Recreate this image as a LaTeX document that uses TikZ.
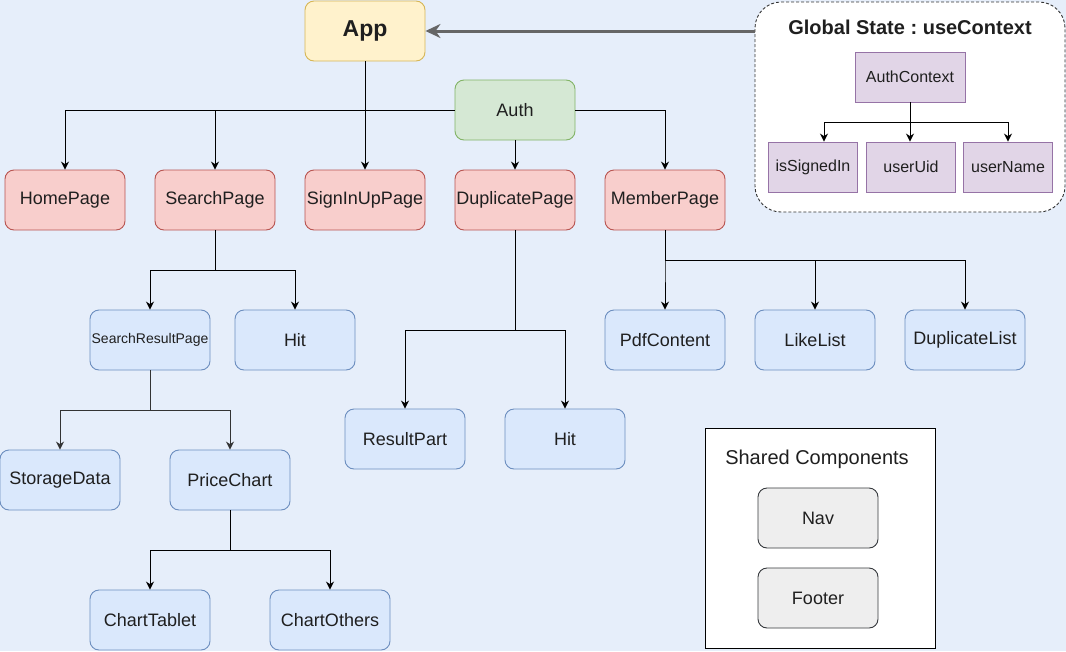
\documentclass[tikz,border=0pt]{standalone}
\usepackage{fontspec}
\setmainfont{Liberation Sans}
\usetikzlibrary{arrows.meta,positioning}
\definecolor{pagebg}{RGB}{230,238,250}
\definecolor{appfill}{RGB}{255,242,204}
\definecolor{appline}{RGB}{214,182,86}
\definecolor{authfill}{RGB}{213,232,212}
\definecolor{authline}{RGB}{130,179,102}
\definecolor{pagefill}{RGB}{248,206,204}
\definecolor{pageline}{RGB}{184,84,80}
\definecolor{partfill}{RGB}{218,232,252}
\definecolor{partline}{RGB}{108,142,191}
\definecolor{ctxfill}{RGB}{225,213,231}
\definecolor{ctxline}{RGB}{150,115,166}
\definecolor{sharedfill}{RGB}{238,238,238}
\definecolor{sharedline}{RGB}{54,57,61}
\definecolor{arrowgray}{RGB}{102,102,102}
\definecolor{edgegray}{RGB}{51,51,51}
\frenchspacing
\tikzset{
  box/.style={rounded corners=9pt,minimum width=120pt,minimum height=60pt,
    line width=0.9pt,align=center,inner sep=1pt,text=black!88,
    font=\fontsize{18}{21}\selectfont},
  rootbox/.style={box,fill=appfill,draw=appline,font=\bfseries\fontsize{23}{27}\selectfont},
  authbox/.style={box,fill=authfill,draw=authline},
  pagebox/.style={box,fill=pagefill,draw=pageline},
  partbox/.style={box,fill=partfill,draw=partline},
  sharedbox/.style={box,fill=sharedfill,draw=sharedline},
  ctxbox/.style={draw=ctxline,fill=ctxfill,line width=0.9pt,minimum width=110pt,
    minimum height=50pt,inner sep=1pt,text=black!88,font=\fontsize{16}{19}\selectfont},
  ctxleaf/.style={ctxbox,minimum width=89pt},
  globalbox/.style={draw=black!80,fill=white,dash pattern=on 3pt off 2pt,line width=0.9pt,
    rounded corners=26pt,minimum width=310pt,minimum height=210pt},
  sharedframe/.style={draw=black,fill=white,line width=1pt,minimum width=230pt,minimum height=220pt},
  frametitle/.style={text=black!88,font=\fontsize{20}{24}\selectfont},
  link/.style={draw=black,line width=1pt,-{Stealth[length=8pt,width=8pt]}},
  statearrow/.style={draw=arrowgray,line width=3pt,-{Stealth[length=15pt,width=14pt]}}
}

\begin{document}
\begin{tikzpicture}[x=1pt,y=-1pt]
  \fill[pagebg] (0,0) rectangle (1066,651);
  \useasboundingbox (0,0) rectangle (1066,651);

  % arbol de componentes
  \node[rootbox] (app) at (365,31) {App};
  \node[authbox] (auth) at (515,110) {Auth};

  \node[pagebox] (home) at (65,200) {HomePage};
  \node[pagebox] (search) at (215,200) {SearchPage};
  \node[pagebox] (signin) at (365,200) {SignInUpPage};
  \node[pagebox] (dup) at (515,200) {DuplicatePage};
  \node[pagebox] (member) at (665,200) {MemberPage};

  \node[partbox,font=\fontsize{14}{17}\selectfont] (srp) at (150,340) {SearchResultPage};
  \node[partbox] (searchhit) at (295,340) {Hit};
  \node[partbox] (storage) at (60,480) {StorageData};
  \node[partbox] (price) at (230,480) {PriceChart};
  \node[partbox] (tablet) at (150,620) {ChartTablet};
  \node[partbox] (others) at (330,620) {ChartOthers};

  \node[partbox] (resultpart) at (405,439) {ResultPart};
  \node[partbox] (duphit) at (565,439) {Hit};

  \node[partbox] (pdf) at (665,340) {PdfContent};
  \node[partbox] (like) at (815,340) {LikeList};
  \node[partbox] (duplist) at (965,340) {DuplicateList};

  \draw[link] (app) -- (signin);
  \draw[link] (auth.west) -| (home.north);
  \draw[link] (auth.west) -| (search.north);
  \draw[link] (auth) -- (dup);
  \draw[link] (auth.east) -| (member.north);

  \draw[link] (search.south) -- ++(0,40) -| (srp.north);
  \draw[link] (search.south) -- ++(0,40) -| (searchhit.north);
  \draw[link,draw=edgegray] (srp.south) -- ++(0,40) -| (storage.north);
  \draw[link,draw=edgegray] (srp.south) -- ++(0,40) -| (price.north);
  \draw[link] (price.south) -- ++(0,40) -| (tablet.north);
  \draw[link] (price.south) -- ++(0,40) -| (others.north);

  \draw[link] (dup.south) -- ++(0,100) -| (resultpart.north);
  \draw[link] (dup.south) -- ++(0,100) -| (duphit.north);

  \draw[link] (member.south) -- ++(0,30) -| (pdf.north);
  \draw[link] (member.south) -- ++(0,30) -| (like.north);
  \draw[link] (member.south) -- ++(0,30) -| (duplist.north);

  % estado global
  \node[globalbox] (global) at (910,107) {};
  \node[frametitle,font=\bfseries\fontsize{20}{24}\selectfont] (globaltitle) at (910,27) {Global State : useContext};
  \node[ctxbox] (ctx) at (910,77) {AuthContext};
  \node[ctxleaf] (signed) at (813,167) {isSignedIn};
  \node[ctxleaf] (uid) at (911,167) {userUid};
  \node[ctxleaf] (uname) at (1008,167) {userName};
  \draw[link] (ctx.south) -- ++(0,20) -| ([xshift=11pt]signed.north);
  \draw[link] (ctx.south) -- (ctx.south |- uid.north);
  \draw[link] (ctx.south) -- ++(0,20) -| (uname.north);
  \draw[statearrow] (global.west |- app.east) -- (app.east);

  % componentes compartidos
  \node[sharedframe] (shared) at (820,538) {};
  \node[frametitle] (sharedtitle) at (817,459) {Shared Components};
  \node[sharedbox] (nav) at (818,518) {Nav};
  \node[sharedbox] (footer) at (818,598) {Footer};
\end{tikzpicture}
\end{document}
